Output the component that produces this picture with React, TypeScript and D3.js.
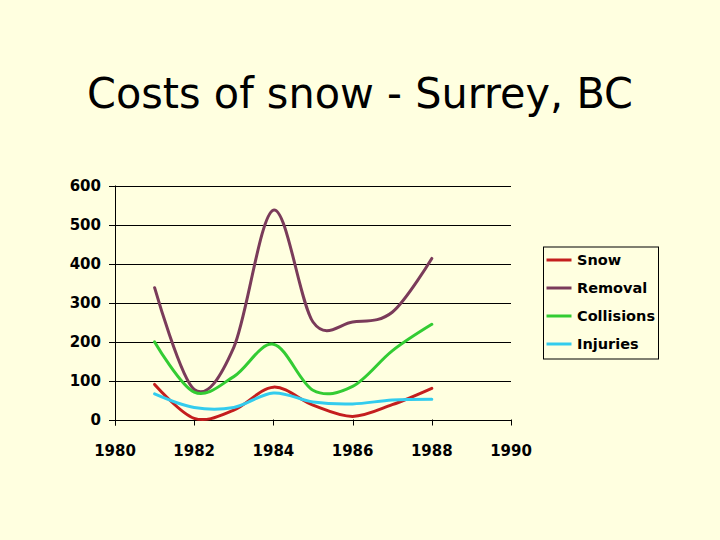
import React from "react";
import * as d3 from "d3";

const years = [1981, 1982, 1983, 1984, 1985, 1986, 1987, 1988];
const snow = [90, 3, 24, 83, 37, 8, 38, 80];
const removal = [338, 77, 185, 537, 250, 250, 275, 413];
const collisions = [199, 70, 110, 193, 75, 85, 176, 244];
const injuries = [66, 31, 31, 68, 45, 40, 50, 52];

const seriesNames = ["Snow", "Removal", "Collisions", "Injuries"];
const seriesColors = ["#C41E1E", "#7A3B5A", "#33CC33", "#33CCEE"];
const seriesValues = [snow, removal, collisions, injuries];

const xTicks = [1980, 1982, 1984, 1986, 1988, 1990];
const yTicks = [0, 100, 200, 300, 400, 500, 600];
const title = "Costs of snow - Surrey, BC";

const W = 720;
const H = 540;
const font = "'DejaVu Sans', sans-serif";

export default function App() {
  const x = d3.scaleLinear().domain([1980, 1990]).range([115, 511]);
  const y = d3.scaleLinear().domain([0, 600]).range([419.5, 185.5]);

  const line = d3
    .line<[number, number]>()
    .x((d) => x(d[0]))
    .y((d) => y(d[1]))
    .curve(d3.curveCatmullRom.alpha(0));

  const legendX = 543;
  const legendY = 246.5;
  const legendW = 115;
  const legendH = 112;

  return (
    <svg
      width={W}
      height={H}
      style={{ position: "absolute", left: 0, top: 0 }}
      xmlns="http://www.w3.org/2000/svg"
    >
      <rect x={0} y={0} width={W} height={H} fill="#FFFFE0" />
      <text
        x={360}
        y={108}
        textAnchor="middle"
        fontFamily={font}
        fontSize={43}
        fill="#000"
        textLength={546}
        lengthAdjust="spacingAndGlyphs"
      >
        {title}
      </text>

      {/* gridlines and y ticks */}
      {yTicks.map((t) => (
        <g key={"y" + t}>
          <line x1={109} x2={x(1990)} y1={Math.round(y(t)) + 0.5} y2={Math.round(y(t)) + 0.5} stroke="#000" strokeWidth={1} />
          <text
            x={101}
            y={y(t)}
            dy="0.36em"
            textAnchor="end"
            fontFamily={font}
            fontWeight="bold"
            fontSize={15}
            fill="#000"
          >
            {t}
          </text>
        </g>
      ))}
      <line x1={115.5} x2={115.5} y1={y(600)} y2={y(0) + 6} stroke="#000" strokeWidth={1} />

      {/* x ticks */}
      {xTicks.map((t) => (
        <g key={"x" + t}>
          <line x1={Math.round(x(t)) + 0.5} x2={Math.round(x(t)) + 0.5} y1={y(0)} y2={y(0) + 6} stroke="#000" strokeWidth={1} />
          <text x={x(t)} y={456} textAnchor="middle" fontFamily={font} fontWeight="bold" fontSize={15} fill="#000">
            {t}
          </text>
        </g>
      ))}

      {/* series */}
      {seriesValues.map((vals, i) => (
        <path
          key={seriesNames[i]}
          d={line(years.map((yr, j) => [yr, vals[j]] as [number, number])) || ""}
          fill="none"
          stroke={seriesColors[i]}
          strokeWidth={3}
          strokeLinejoin="round"
          strokeLinecap="round"
        />
      ))}

      {/* legend */}
      <rect x={legendX + 0.5} y={legendY + 0.5} width={legendW} height={legendH} fill="#FFFFE0" stroke="#000" strokeWidth={1} />
      {seriesNames.map((name, i) => {
        const cy = 260 + i * 28;
        return (
          <g key={"lg" + name}>
            <line x1={546.5} x2={571.5} y1={cy} y2={cy} stroke={seriesColors[i]} strokeWidth={3} />
            <text x={577} y={cy} dy="0.36em" fontFamily={font} fontWeight="bold" fontSize={14.5} fill="#000">
              {name}
            </text>
          </g>
        );
      })}
    </svg>
  );
}
